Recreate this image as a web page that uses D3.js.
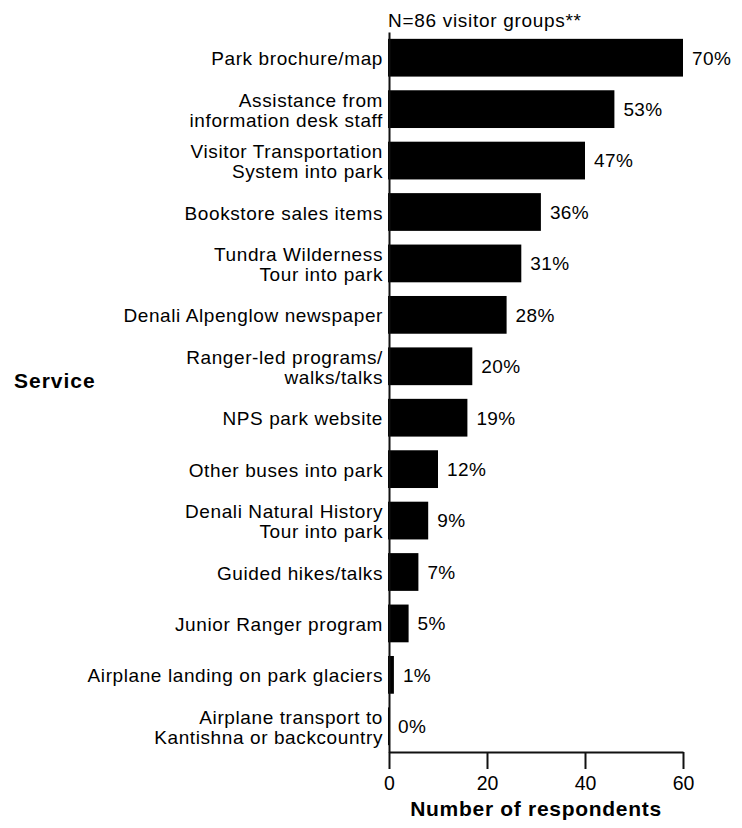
<!DOCTYPE html>
<html>
<head>
<meta charset="utf-8">
<script src="https://cdn.jsdelivr.net/npm/d3@7"></script>
<style>
  body { margin: 0; background: #fff; }
  svg text { font-family: "Liberation Sans", Arial, sans-serif; fill: #000; }
</style>
</head>
<body>
<div id="chart"></div>
<script>
var services = [
    'Park brochure/map',
    'Assistance from\ninformation desk staff',
    'Visitor Transportation\nSystem into park',
    'Bookstore sales items',
    'Tundra Wilderness\nTour into park',
    'Denali Alpenglow newspaper',
    'Ranger-led programs/\nwalks/talks',
    'NPS park website',
    'Other buses into park',
    'Denali Natural History\nTour into park',
    'Guided hikes/talks',
    'Junior Ranger program',
    'Airplane landing on park glaciers',
    'Airplane transport to\nKantishna or backcountry'
];
var counts = [60, 46, 40, 31, 27, 24, 17, 16, 10, 8, 6, 4, 1, 0];
var percents = ['70%', '53%', '47%', '36%', '31%', '28%', '20%', '19%', '12%', '9%', '7%', '5%', '1%', '0%'];
var xTicks = [0, 20, 40, 60];
var note = 'N=86 visitor groups**';

var width = 742;
var height = 828;
var margin = { top: 32, right: 59, bottom: 76, left: 389 };

var data = services.map((s, i) => ({ service: s, count: counts[i], pct: percents[i] }));

var x = d3.scaleLinear().domain([0, 60]).range([margin.left, width - margin.right]);
var y = d3.scaleBand()
    .domain(services)
    .range([margin.top, height - margin.bottom])
    .paddingInner(0.266)
    .paddingOuter(0.133);

var svg = d3.select('#chart')
    .append('svg')
    .attr('width', width)
    .attr('height', height);

// bars
svg.append('g')
    .selectAll('rect')
    .data(data)
    .join('rect')
    .attr('x', x(0) - 1)
    .attr('y', d => y(d.service))
    .attr('width', d => x(d.count) - x(0) + 1)
    .attr('height', y.bandwidth())
    .attr('fill', '#000');

// percent labels
svg.append('g')
    .selectAll('text')
    .data(data)
    .join('text')
    .attr('x', d => x(d.count) + 9)
    .attr('y', d => y(d.service) + y.bandwidth() / 2)
    .attr('dy', '0.36em')
    .style('font-size', '19px')
    .style('letter-spacing', '0.4px')
    .text(d => d.pct);

// category labels
var labels = svg.append('g')
    .selectAll('text')
    .data(data)
    .join('text')
    .attr('text-anchor', 'end')
    .attr('y', d => y(d.service) + y.bandwidth() / 2)
    .style('font-size', '19px')
    .style('letter-spacing', '0.6px');

labels.each(function (d) {
    var lines = d.service.split('\n');
    var t = d3.select(this);
    var lh = 20;
    lines.forEach((line, i) => {
        t.append('tspan')
            .attr('x', x(0) - 6)
            .attr('dy', i === 0 ? (0.4 * 19 - (lines.length - 1) * lh / 2) + 'px' : lh + 'px')
            .text(line);
    });
});

// y axis line
var yAxis = d3.axisLeft(y).tickSize(0).tickFormat('');
svg.append('g')
    .attr('transform', `translate(${x(0)},0)`)
    .call(yAxis)
    .call(g => g.select('.domain').attr('stroke', '#111').attr('stroke-width', 2));

// x axis
var xAxis = d3.axisBottom(x).tickValues(xTicks).tickSize(17).tickSizeOuter(0).tickPadding(7);
svg.append('g')
    .attr('transform', `translate(0,${height - margin.bottom})`)
    .call(xAxis)
    .call(g => g.select('.domain').attr('stroke', '#111').attr('stroke-width', 2))
    .call(g => g.selectAll('.tick line').attr('stroke', '#111').attr('stroke-width', 2))
    .call(g => g.selectAll('.tick text')
        .style('font-size', '19.5px')
        .style('font-family', '"Liberation Sans", Arial, sans-serif')
        .attr('fill', '#000'));

// titles
svg.append('text')
    .attr('x', x(0) - 1)
    .attr('y', 27)
    .style('font-size', '19px')
    .style('letter-spacing', '0.7px')
    .text(note);

svg.append('text')
    .attr('x', 14)
    .attr('y', 388)
    .style('font-size', '21px')
    .style('font-weight', 'bold')
    .style('letter-spacing', '1px')
    .text('Service');

svg.append('text')
    .attr('x', (x(0) + x(60)) / 2)
    .attr('y', 816)
    .attr('text-anchor', 'middle')
    .style('font-size', '21px')
    .style('font-weight', 'bold')
    .style('letter-spacing', '0.7px')
    .text('Number of respondents');
</script>
</body>
</html>
